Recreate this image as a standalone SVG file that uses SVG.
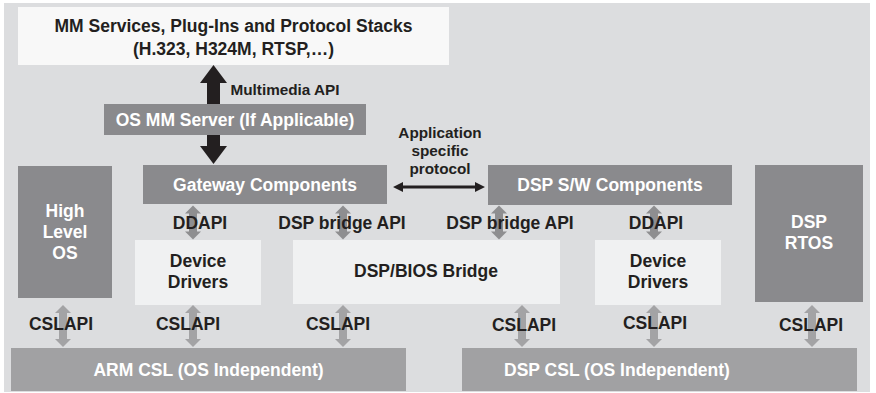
<svg xmlns="http://www.w3.org/2000/svg" width="876" height="393" viewBox="0 0 876 393">
<style>
text{font-family:"Liberation Sans",Arial,sans-serif;font-weight:bold;text-anchor:middle}
.dk{fill:#8a8a8d}
.csl{fill:#a1a1a3}
.lt{fill:#f0f1f2}
.wt{fill:#ffffff;font-size:17.5px}
.bt{fill:#231f20;font-size:17.5px}
.sm{fill:#231f20;font-size:15.3px}
.ga{fill:#8e8e90}
.gb{fill:#a3a3a5}
.blk{fill:#231f20}
</style>
<defs>
<path id="ua" d="M0,-17 L8,-9 L4,-9 L4,9 L8,9 L0,17 L-8,9 L-4,9 L-4,-9 L-8,-9 Z"/>
<path id="ca" d="M0,-21 L8,-13 L4,-13 L4,13 L8,13 L0,21 L-8,13 L-4,13 L-4,-13 L-8,-13 Z"/>
</defs>
<rect x="0" y="0" width="876" height="393" fill="#ffffff"/>
<rect x="4" y="3" width="866" height="389" fill="#dcdddf"/>

<g id="connectors">
  <path class="blk" d="M213.5,65 L227,83 L220,83 L220,104 L207,104 L207,83 L200,83 Z"/>
  <path class="blk" d="M213.5,164 L227,146 L220,146 L220,135 L207,135 L207,146 L200,146 Z"/>
  <path class="blk" d="M393,187 L403,182 L403,185.5 L475,185.5 L475,182 L485,187 L475,192 L475,188.5 L403,188.5 L403,192 Z"/>
  <use href="#ua" class="ga" x="193" y="222.5"/>
  <use href="#ua" class="ga" x="343" y="222.5"/>
  <use href="#ua" class="ga" x="499" y="222.5"/>
  <use href="#ua" class="ga" x="654" y="222.5"/>
  <use href="#ca" class="gb" x="63" y="326"/>
  <use href="#ca" class="gb" x="193" y="326"/>
  <use href="#ca" class="gb" x="343" y="326"/>
  <use href="#ca" class="gb" x="522" y="326"/>
  <use href="#ca" class="gb" x="654" y="326"/>
  <use href="#ca" class="gb" x="812" y="326"/>
</g>

<g id="mm-services">
  <rect x="18" y="7" width="431" height="58" fill="#f8f8f8"/>
  <text class="bt" x="233.5" y="32">MM Services, Plug-Ins and Protocol Stacks</text>
  <text class="bt" x="233.5" y="55">(H.323, H324M, RTSP,…)</text>
</g>
<text class="sm" x="285" y="95">Multimedia API</text>

<g id="os-mm-server">
  <rect class="dk" x="104" y="104" width="262" height="31"/>
  <text class="wt" x="235" y="125.5">OS MM Server (If Applicable)</text>
</g>

<g id="app-protocol">
  <text class="sm" x="440" y="138">Application</text>
  <text class="sm" x="440" y="156">specific</text>
  <text class="sm" x="440" y="174">protocol</text>
</g>

<g id="gateway">
  <rect class="dk" x="143" y="165" width="244" height="39"/>
  <text class="wt" x="265" y="191">Gateway Components</text>
</g>

<g id="dsp-sw">
  <rect class="dk" x="488" y="165" width="244" height="40"/>
  <text class="wt" x="610" y="191">DSP S/W Components</text>
</g>

<g id="high-level-os">
  <rect class="dk" x="18" y="166" width="94" height="132"/>
  <text class="wt" x="65" y="217">High</text>
  <text class="wt" x="65" y="238">Level</text>
  <text class="wt" x="65" y="259">OS</text>
</g>

<g id="dsp-rtos">
  <rect class="dk" x="755" y="165" width="108" height="137"/>
  <text class="wt" x="809" y="228">DSP</text>
  <text class="wt" x="809" y="249">RTOS</text>
</g>

<g id="labels-api">
  <text class="bt" x="200" y="229">DDAPI</text>
  <text class="bt" x="342" y="229">DSP bridge API</text>
  <text class="bt" x="510" y="229">DSP bridge API</text>
  <text class="bt" x="656" y="229">DDAPI</text>
</g>

<g id="device-drivers-left">
  <rect class="lt" x="135" y="240" width="126" height="65"/>
  <text class="bt" x="198" y="267">Device</text>
  <text class="bt" x="198" y="288">Drivers</text>
</g>

<g id="dsp-bios-bridge">
  <rect class="lt" x="293" y="240" width="267" height="64"/>
  <text class="bt" x="426" y="277">DSP/BIOS Bridge</text>
</g>

<g id="device-drivers-right">
  <rect class="lt" x="595" y="240" width="126" height="65"/>
  <text class="bt" x="658" y="267">Device</text>
  <text class="bt" x="658" y="288">Drivers</text>
</g>

<g id="labels-csl">
  <text class="bt" x="61" y="330">CSLAPI</text>
  <text class="bt" x="188" y="330">CSLAPI</text>
  <text class="bt" x="338" y="330">CSLAPI</text>
  <text class="bt" x="524" y="331">CSLAPI</text>
  <text class="bt" x="655" y="329">CSLAPI</text>
  <text class="bt" x="811" y="331">CSLAPI</text>
</g>

<g id="arm-csl">
  <rect class="csl" x="11" y="348" width="395" height="43"/>
  <text class="wt" x="208.5" y="375.5">ARM CSL (OS Independent)</text>
</g>

<g id="dsp-csl">
  <rect class="csl" x="462" y="348" width="395" height="43"/>
  <text class="wt" x="617" y="375.5">DSP CSL (OS Independent)</text>
</g>
</svg>
